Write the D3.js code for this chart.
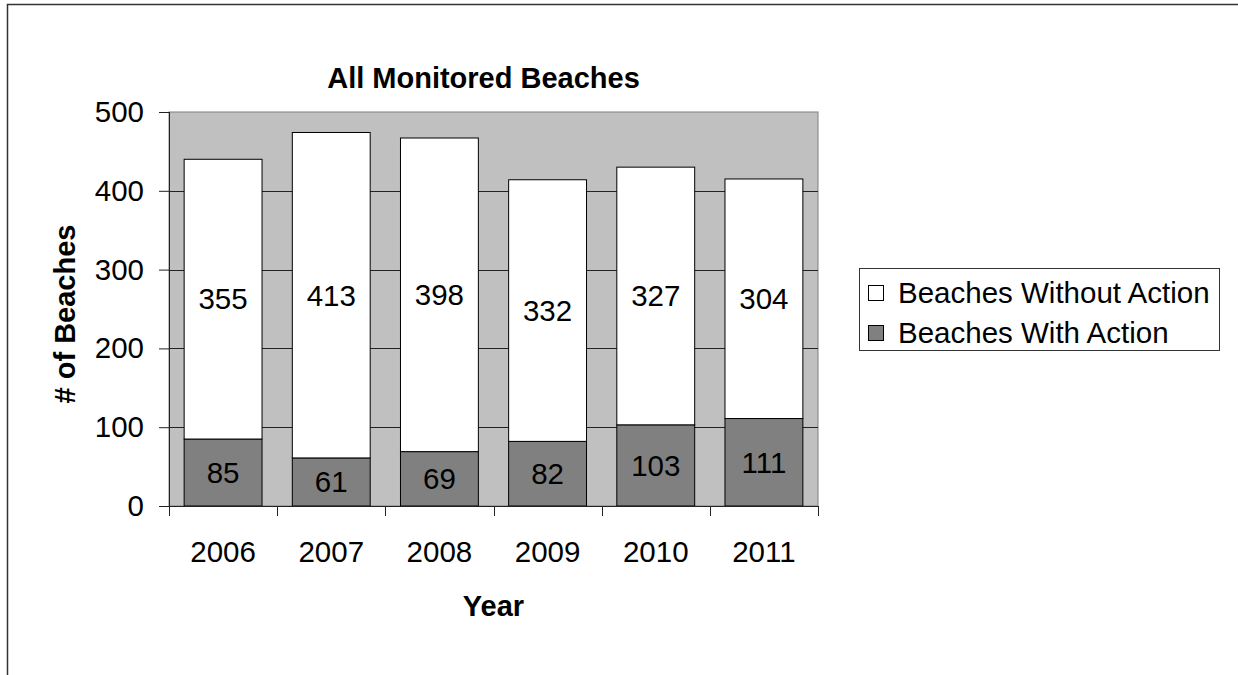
<!DOCTYPE html>
<html>
<head>
<meta charset="utf-8">
<script src="https://cdn.jsdelivr.net/npm/d3@7/dist/d3.min.js"></script>
<style>
  body { margin: 0; background: #fff; }
  svg { display: block; font-family: "Liberation Sans", Arial, sans-serif; }
</style>
</head>
<body>
<div id="chart"></div>
<script>
// Data
var years = ['2006', '2007', '2008', '2009', '2010', '2011']
var withAction = [85, 61, 69, 82, 103, 111]
var withoutAction = [355, 413, 398, 332, 327, 304]
var yTicks = [0, 100, 200, 300, 400, 500]
var seriesNames = ['Beaches Without Action', 'Beaches With Action']

// Dimensions
var width = 1238
var height = 675
var margin = { top: 112, right: 420, bottom: 169, left: 169 }
var chartWidth = width - margin.left - margin.right
var chartHeight = height - margin.top - margin.bottom
var labelSize = 29.5
var boldSize = 29

var svg = d3.select('#chart').append('svg')
  .attr('width', width)
  .attr('height', height)

// Outer chart border (runs off the right and bottom of the picture)
svg.append('rect')
  .attr('x', 7.5).attr('y', 4.5)
  .attr('width', 1300).attr('height', 700)
  .attr('fill', '#fff')
  .attr('stroke', '#333')
  .attr('stroke-width', 1.5)

// Scales
var xScale = d3.scaleBand().domain(years).range([0, chartWidth])
var yScale = d3.scaleLinear().domain([0, 500]).range([chartHeight, 0])
var barWidth = xScale.bandwidth() * 0.72
var barOffset = (xScale.bandwidth() - barWidth) / 2

var g = svg.append('g')
  .attr('transform', 'translate(' + margin.left + ',' + margin.top + ')')

// Plot background
g.append('rect')
  .attr('width', chartWidth)
  .attr('height', chartHeight)
  .attr('fill', '#c0c0c0')
  .attr('stroke', '#808080')
  .attr('stroke-width', 1)

// Gridlines
g.selectAll('.grid')
  .data(yTicks.filter(function (d) { return d > 0 && d < 500 }))
  .enter().append('line')
  .attr('class', 'grid')
  .attr('x1', 0).attr('x2', chartWidth)
  .attr('y1', function (d) { return Math.round(yScale(d)) + 0.5 })
  .attr('y2', function (d) { return Math.round(yScale(d)) + 0.5 })
  .attr('stroke', '#222')
  .attr('stroke-width', 1)

// Stack
var rows = years.map(function (y, i) {
  return { year: y, withAction: withAction[i], withoutAction: withoutAction[i] }
})
var stack = d3.stack().keys(['withAction', 'withoutAction'])(rows)
var fills = { withAction: '#808080', withoutAction: '#ffffff' }

var layers = g.selectAll('.layer')
  .data(stack)
  .enter().append('g')
  .attr('class', 'layer')
  .attr('fill', function (d) { return fills[d.key] })

layers.selectAll('rect')
  .data(function (d) { return d })
  .enter().append('rect')
  .attr('x', function (d) { return xScale(d.data.year) + barOffset })
  .attr('y', function (d) { return yScale(d[1]) })
  .attr('width', barWidth)
  .attr('height', function (d) { return yScale(d[0]) - yScale(d[1]) })
  .attr('stroke', '#000')
  .attr('stroke-width', 1)

// Data labels
layers.selectAll('text')
  .data(function (d) { return d })
  .enter().append('text')
  .attr('x', function (d) { return xScale(d.data.year) + xScale.bandwidth() / 2 })
  .attr('y', function (d) { return yScale((d[0] + d[1]) / 2) })
  .attr('dy', '0.35em')
  .attr('text-anchor', 'middle')
  .attr('font-size', labelSize)
  .attr('fill', '#000')
  .text(function (d) { return d[1] - d[0] })

// Y axis
var yAxis = g.append('g')
  .call(d3.axisLeft(yScale).tickValues(yTicks).tickSize(10).tickPadding(15))
yAxis.select('.domain').attr('stroke', '#222').attr('d', 'M0.5,0V' + chartHeight)
yAxis.selectAll('.tick line').attr('stroke', '#222')
yAxis.selectAll('text').attr('font-size', labelSize).attr('font-family', 'Liberation Sans, Arial, sans-serif').attr('fill', '#000')

// X axis (ticks at category boundaries)
var xAxisG = g.append('g')
  .attr('transform', 'translate(0,' + chartHeight + ')')
xAxisG.append('line')
  .attr('x1', 0).attr('x2', chartWidth)
  .attr('y1', 0.5).attr('y2', 0.5)
  .attr('stroke', '#222')
xAxisG.selectAll('.xtick')
  .data(years.concat(['end']))
  .enter().append('line')
  .attr('class', 'xtick')
  .attr('x1', function (d, i) { return Math.round(i * xScale.step()) + 0.5 })
  .attr('x2', function (d, i) { return Math.round(i * xScale.step()) + 0.5 })
  .attr('y1', 0).attr('y2', 10)
  .attr('stroke', '#222')
xAxisG.selectAll('.xlabel')
  .data(years)
  .enter().append('text')
  .attr('class', 'xlabel')
  .attr('x', function (d) { return xScale(d) + xScale.bandwidth() / 2 })
  .attr('y', 46)
  .attr('dy', '0.35em')
  .attr('text-anchor', 'middle')
  .attr('font-size', labelSize)
  .text(function (d) { return d })

// Titles
svg.append('text')
  .attr('x', margin.left + chartWidth / 2 - 10)
  .attr('y', 78)
  .attr('dy', '0.35em')
  .attr('text-anchor', 'middle')
  .attr('font-size', boldSize)
  .attr('font-weight', 'bold')
  .text('All Monitored Beaches')

svg.append('text')
  .attr('x', margin.left + chartWidth / 2)
  .attr('y', 606)
  .attr('dy', '0.35em')
  .attr('text-anchor', 'middle')
  .attr('font-size', boldSize)
  .attr('font-weight', 'bold')
  .text('Year')

svg.append('text')
  .attr('transform', 'translate(65,' + (margin.top + chartHeight / 2 + 5) + ') rotate(-90)')
  .attr('dy', '0.35em')
  .attr('text-anchor', 'middle')
  .attr('font-size', boldSize)
  .attr('font-weight', 'bold')
  .text('# of Beaches')

// Legend
var legend = svg.append('g').attr('transform', 'translate(859,268)')
legend.append('rect')
  .attr('x', 0.5).attr('y', 0.5)
  .attr('width', 360).attr('height', 82)
  .attr('fill', '#fff')
  .attr('stroke', '#333')
var legendFills = ['#ffffff', '#808080']
var items = legend.selectAll('.item')
  .data(seriesNames)
  .enter().append('g')
  .attr('class', 'item')
  .attr('transform', function (d, i) { return 'translate(9,' + (25 + i * 40) + ')' })
items.append('rect')
  .attr('x', 0.5).attr('y', -7.5)
  .attr('width', 15).attr('height', 15)
  .attr('fill', function (d, i) { return legendFills[i] })
  .attr('stroke', '#000')
items.append('text')
  .attr('x', 30)
  .attr('dy', '0.35em')
  .attr('font-size', labelSize)
  .text(function (d) { return d })
</script>
</body>
</html>
